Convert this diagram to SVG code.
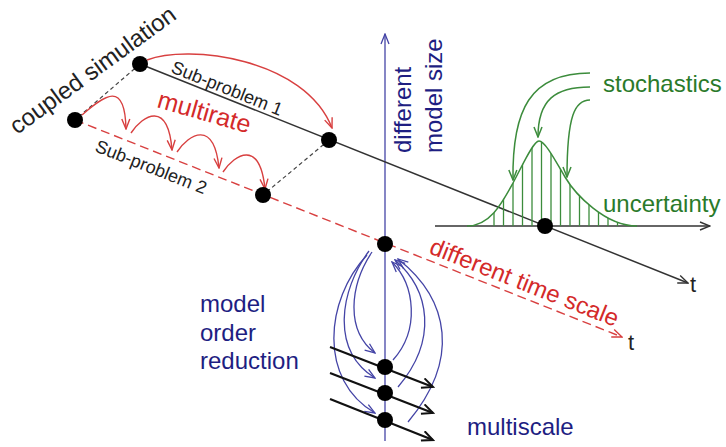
<svg xmlns="http://www.w3.org/2000/svg" width="726" height="447" viewBox="0 0 726 447">
<style>
text{font-family:"Liberation Sans",Arial,sans-serif}
.navy{fill:#1e1e82}
.red{fill:#d42a2a}
.green{fill:#2a7a2a}
.blk{fill:#222}
.node{fill:#000}
.bl{stroke:#4444a6;stroke-width:1.3;fill:none}
.gl{stroke:#3c8c3c;stroke-width:1.5;fill:none}
.rl{stroke:#d84040;stroke-width:1.4;fill:none}
.kl{stroke:#333;stroke-width:1.5;fill:none}
</style>
<defs>
<marker id="ak" viewBox="0 0 12 10" refX="11" refY="5" markerWidth="12" markerHeight="10" markerUnits="userSpaceOnUse" orient="auto"><path d="M1,1 L11,5 L1,9" fill="none" stroke="#333" stroke-width="1.4"/></marker>
<marker id="akb" viewBox="0 0 14 12" refX="12" refY="6" markerWidth="14" markerHeight="12" markerUnits="userSpaceOnUse" orient="auto"><path d="M1,1 L12,6 L1,11" fill="none" stroke="#111" stroke-width="2"/></marker>
<marker id="ar" viewBox="0 0 12 10" refX="11" refY="5" markerWidth="12" markerHeight="10" markerUnits="userSpaceOnUse" orient="auto"><path d="M1,1 L11,5 L1,9" fill="none" stroke="#d84040" stroke-width="1.4"/></marker>
<marker id="ab" viewBox="0 0 12 10" refX="11" refY="5" markerWidth="12" markerHeight="10" markerUnits="userSpaceOnUse" orient="auto"><path d="M1,1 L11,5 L1,9" fill="none" stroke="#4444a6" stroke-width="1.3"/></marker>
<marker id="ag" viewBox="0 0 12 10" refX="11" refY="5" markerWidth="12" markerHeight="10" markerUnits="userSpaceOnUse" orient="auto"><path d="M1,1 L11,5 L1,9" fill="none" stroke="#3c8c3c" stroke-width="1.5"/></marker>
<clipPath id="gclip"><path d="M467,226 C490,226 502,203 513,183 C521,168.5 533,141 539,141 C545,141 555,160 565,177 C575,194 605,226 637,226 Z"/></clipPath>
</defs>

<g id="connectors">
  <path class="bl" d="M385,441 L385,34" marker-end="url(#ab)"/>
  <path class="kl" d="M140,64 L688,283" marker-end="url(#ak)"/>
  <path class="kl" d="M435,226 L710,226" marker-end="url(#ak)"/>
  <path class="rl" d="M75,120 L622,337" stroke-dasharray="9,5" marker-end="url(#ar)"/>
  <path d="M140,64 L75,120 M329,140 L263,195" stroke="#444" stroke-width="1.2" stroke-dasharray="4,3" fill="none"/>
  <path class="rl" d="M147,60 C188,44 305,58 332,128" marker-end="url(#ar)"/>
  <path class="rl" d="M82,115 C105,95 125,80 126,129" marker-end="url(#ar)"/>
  <path class="rl" d="M131,133 C143,115 168,100 172,150" marker-end="url(#ar)"/>
  <path class="rl" d="M177,152 C189,134 214,119 219,168" marker-end="url(#ar)"/>
  <path class="rl" d="M223,172 C235,154 260,139 265,189" marker-end="url(#ar)"/>
  <path class="gl" d="M467,226 C490,226 502,203 513,183 C521,168.5 533,141 539,141 C545,141 555,160 565,177 C575,194 605,226 637,226"/>
  <g clip-path="url(#gclip)" stroke="#3c8c3c" stroke-width="1.3">
    <path d="M494,130V226M503.5,130V226M513,130V226M522.5,130V226M532,130V226M541.5,130V226M551,130V226M560.5,130V226M570,130V226M579.5,130V226M589,130V226M598.5,130V226M608,130V226M617.5,130V226"/>
  </g>
  <path class="gl" d="M590,73 C530,73 512,110 513,180" marker-end="url(#ag)"/>
  <path class="gl" d="M590,87 C555,87 538,100 538,137" marker-end="url(#ag)"/>
  <path class="gl" d="M590,100 C575,100 567,115 567,177" marker-end="url(#ag)"/>
  <path class="bl" d="M372,252 C350,285 345,330 375,353" marker-end="url(#ab)"/>
  <path class="bl" d="M369,251 C340,290 330,350 375,378" marker-end="url(#ab)"/>
  <path class="bl" d="M367,255 C325,300 318,380 375,413" marker-end="url(#ab)"/>
  <path class="bl" d="M393,360 C420,330 415,285 392,262" marker-end="url(#ab)"/>
  <path class="bl" d="M398,387 C438,340 430,290 395,260" marker-end="url(#ab)"/>
  <path class="bl" d="M408,422 C460,360 450,300 398,259" marker-end="url(#ab)"/>
  <path d="M330,347 L433,387" stroke="#111" stroke-width="2.2" fill="none" marker-end="url(#akb)"/>
  <path d="M330,373 L433,413" stroke="#111" stroke-width="2.2" fill="none" marker-end="url(#akb)"/>
  <path d="M330,399 L433,440" stroke="#111" stroke-width="2.2" fill="none" marker-end="url(#akb)"/>
</g>

<g id="nodeA"><circle class="node" cx="140" cy="64" r="8"/></g>
<g id="nodeB"><circle class="node" cx="75" cy="120" r="8"/></g>
<g id="nodeC"><circle class="node" cx="329" cy="140" r="8"/></g>
<g id="nodeD"><circle class="node" cx="263" cy="195" r="8"/></g>
<g id="nodeE"><circle class="node" cx="545" cy="226" r="8"/></g>
<g id="nodeF"><circle class="node" cx="385" cy="244" r="8"/></g>
<g id="nodeG"><circle class="node" cx="385" cy="367" r="8"/></g>
<g id="nodeH"><circle class="node" cx="385" cy="393" r="8"/></g>
<g id="nodeI"><circle class="node" cx="385" cy="420" r="8"/></g>

<g id="labels">
  <text class="blk" font-size="24" transform="translate(17,135) rotate(-36)">coupled simulation</text>
  <text class="blk" font-size="18" transform="translate(170,72) rotate(21.8)">Sub-problem 1</text>
  <text class="blk" font-size="18" transform="translate(94,151) rotate(21.6)">Sub-problem 2</text>
  <text class="red" font-size="25" transform="translate(156,107) rotate(16)">multirate</text>
  <text class="red" font-size="24" transform="translate(428,253) rotate(21.6)">different time scale</text>
  <text class="navy" font-size="24" transform="translate(411,153) rotate(-90)">different</text>
  <text class="navy" font-size="24" transform="translate(442,153) rotate(-90)">model size</text>
  <text class="green" font-size="24" x="603" y="92">stochastics</text>
  <text class="green" font-size="24" x="603" y="212">uncertainty</text>
  <text class="blk" font-size="22" x="690" y="292">t</text>
  <text class="blk" font-size="22" x="628" y="350">t</text>
  <text class="navy" font-size="24" x="200" y="312">model</text>
  <text class="navy" font-size="24" x="200" y="341">order</text>
  <text class="navy" font-size="24" x="200" y="369">reduction</text>
  <text class="navy" font-size="24" x="467" y="435">multiscale</text>
</g>
</svg>
